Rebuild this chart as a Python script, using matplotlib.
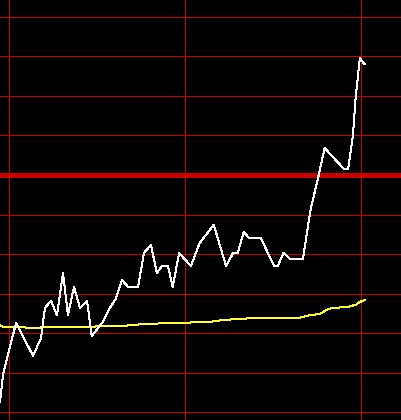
import matplotlib
matplotlib.use('Agg')
import matplotlib.pyplot as plt

# price line (minute index, change in grid units)
price_x = [-1.53, -0.97, 1.2, 4.1, 5.45, 6.13, 7.16, 8.18, 9.2, 10.05, 11.07, 12.1,
           13.3, 14.1, 16.0, 17.2, 18.2, 19.25, 20.3, 22.0, 23.0, 24.2, 25.2, 26.1,
           27.1, 27.9, 29.0, 31.0, 32.5, 34.9, 37.0, 38.2, 39.0, 40.0, 40.9, 42.9,
           45.2, 45.8, 46.8, 47.9, 50.1, 51.4, 52.8, 53.8, 57.1, 57.8, 58.6, 59.1,
           59.8, 60.6]
price_y = [-5.73, -5.0, -3.74, -4.57, -4.12, -3.36, -3.18, -3.54, -2.47, -3.54, -2.83, -3.36,
           -3.18, -4.07, -3.71, -3.36, -3.13, -2.65, -2.83, -2.83, -1.97, -1.77, -2.47, -2.30,
           -2.30, -2.83, -1.97, -2.30, -1.72, -1.26, -2.30, -1.97, -1.97, -1.44, -1.59, -1.59,
           -2.30, -2.30, -1.97, -2.12, -2.12, -0.88, 0.0, 0.68, 0.15, 0.15, 0.96, 1.97,
           2.95, 2.80]

# average line
avg_x = [-1.53, -1.0, 4.8, 6.6, 11.6, 19.6, 23.5, 28.4, 34.4, 36.5, 39.5, 41.6,
         49.4, 51.4, 53.0, 54.5, 55.4, 57.8, 59.1, 59.8, 60.6]
avg_y = [-3.79, -3.84, -3.86, -3.84, -3.84, -3.81, -3.76, -3.74, -3.71, -3.66, -3.64, -3.61,
         -3.61, -3.54, -3.51, -3.38, -3.36, -3.33, -3.28, -3.21, -3.16]

h_levels = [-6, -5, -4, -3, -2, -1, 1, 2, 3, 4]
v_levels = [0, 30, 60]
red = '#c80000'

fig = plt.figure(figsize=(4.02, 4.2), dpi=100, facecolor='black')
ax = fig.add_axes([0, 0, 1, 1])
ax.set_facecolor('black')

for lv in h_levels:
    ax.axhline(lv, color=red, linewidth=0.72, antialiased=False)
ax.axhline(0, color=red, linewidth=2.4, antialiased=False)
for lv in v_levels:
    ax.axvline(lv, color=red, linewidth=0.72, antialiased=False)

ax.plot(avg_x, avg_y, color='#ffff33', linewidth=0.72, antialiased=False)
ax.plot(price_x, price_y, color='white', linewidth=0.72, antialiased=False)

ax.set_xlim(-1.534, 66.99)
ax.set_ylim(-6.19, 4.42)
ax.axis('off')

fig.savefig('out.png', dpi=100, facecolor='black')
